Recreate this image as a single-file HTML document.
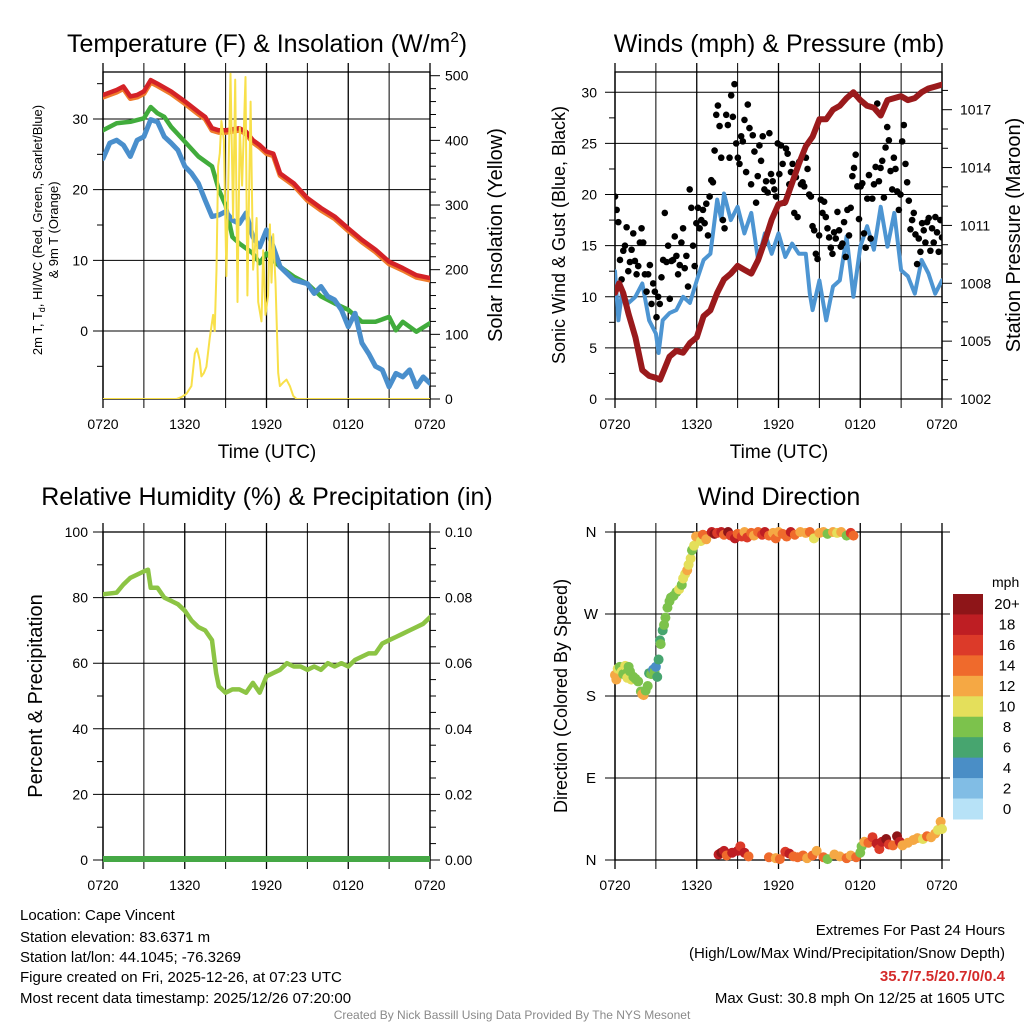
<!DOCTYPE html>
<html><head><meta charset="utf-8"><title>Cape Vincent Meteogram</title>
<style>
html,body{margin:0;padding:0;background:#fff;}
svg{display:block;font-family:"Liberation Sans",Arial,sans-serif;}
</style></head>
<body>
<svg id="root" width="1024" height="1024" viewBox="0 0 1024 1024" xmlns="http://www.w3.org/2000/svg">
<defs>
<clipPath id="c1"><rect x="103" y="72" width="327" height="327"/></clipPath>
<clipPath id="c2"><rect x="615" y="72" width="327" height="327"/></clipPath>
<clipPath id="c3"><rect x="103" y="532" width="327" height="330"/></clipPath>
</defs>
<g id="layer"></g>
<text x="267" y="52" font-size="25" text-anchor="middle">Temperature (F) &amp; Insolation (W/m<tspan dy="-10" font-size="15">2</tspan><tspan dy="10">)</tspan></text>
<text x="779" y="52" font-size="25" text-anchor="middle">Winds (mph) &amp; Pressure (mb)</text>
<text x="267" y="505" font-size="25" text-anchor="middle">Relative Humidity (%) &amp; Precipitation (in)</text>
<text x="779" y="505" font-size="25" text-anchor="middle">Wind Direction</text>
<text x="267" y="458" font-size="19" text-anchor="middle">Time (UTC)</text>
<text x="779" y="458" font-size="19" text-anchor="middle">Time (UTC)</text>
<g transform="translate(42,230) rotate(-90)">
<text x="0" y="0" font-size="13" text-anchor="middle">2m T, T<tspan dy="3" font-size="9">d</tspan><tspan dy="-3">, HI/WC (Red, Green, Scarlet/Blue)</tspan></text>
<text x="0" y="16" font-size="13" text-anchor="middle">&amp; 9m T (Orange)</text>
</g>
<text transform="translate(502,235) rotate(-90)" font-size="20" text-anchor="middle">Solar Insolation (Yellow)</text>
<text transform="translate(565,235) rotate(-90)" font-size="18" text-anchor="middle">Sonic Wind &amp; Gust (Blue, Black)</text>
<text transform="translate(1020,235) rotate(-90)" font-size="20" text-anchor="middle">Station Pressure (Maroon)</text>
<text transform="translate(42,696) rotate(-90)" font-size="20" text-anchor="middle">Percent &amp; Precipitation</text>
<text transform="translate(567,696) rotate(-90)" font-size="18" text-anchor="middle">Direction (Colored By Speed)</text>
<text x="992" y="587" font-size="14">mph</text>
<g font-size="15">
<text x="20" y="920">Location: Cape Vincent</text>
<text x="20" y="942">Station elevation: 83.6371 m</text>
<text x="20" y="962">Station lat/lon: 44.1045; -76.3269</text>
<text x="20" y="982">Figure created on Fri, 2025-12-26, at 07:23 UTC</text>
<text x="20" y="1003">Most recent data timestamp: 2025/12/26 07:20:00</text>
</g>
<g font-size="15" text-anchor="end">
<text x="1005" y="935">Extremes For Past 24 Hours</text>
<text x="1005" y="958">(High/Low/Max Wind/Precipitation/Snow Depth)</text>
<text x="1005" y="981" fill="#d42a2a" font-weight="bold">35.7/7.5/20.7/0/0.4</text>
<text x="1005" y="1003">Max Gust: 30.8 mph On 12/25 at 1605 UTC</text>
</g>
<text x="512" y="1019" font-size="12" fill="#8a8a8a" text-anchor="middle">Created By Nick Bassill Using Data Provided By The NYS Mesonet</text>
</svg>
<script>
const redH=[0,1,1.5,2,2.5,3,3.5,4,5,6,7,7.5,8,8.5,9,10,10.5,11,11.5,12,12.5,13,14,15,16,17,18,19,20,21,22,23,24];
const redV=[33.4,34.1,34.6,33.2,33.4,33.9,35.5,35,33.9,32.5,31,30.3,28.7,28.4,28.4,28.7,28.2,27,26.3,25.4,25.1,22.3,20.9,18.8,17.4,16.2,14.5,12.9,11.5,9.8,8.9,7.9,7.5];
const orangeV=[33.1,33.8,34.3,32.9,33.1,33.6,35.2,34.7,33.6,32.2,30.7,30,28.4,28.1,28.1,28.4,27.9,26.7,26,25.1,24.8,22,20.6,18.5,17.1,15.9,14.2,12.6,11.2,9.5,8.6,7.6,7.2];
const greenH=[0,1,2,3,3.5,4,4.5,5,6,7,8,8.5,9,9.5,10,11,11.5,12,12.5,13,14,15,16,17,18,19,20,21,21.5,22,23,24];
const greenV=[28.4,29.4,29.6,30.1,31.7,30.8,30.3,28.9,26.8,24.7,23.3,20,17.8,13.3,12.4,11,9.6,11,10,9.1,7.7,6.7,4.9,3.9,3,1.3,1.3,2,0.1,1.3,-0.1,1.1];
const blueH=[0,0.5,1,1.5,2,2.5,3,3.5,4,4.5,5,5.5,6,6.5,7,7.5,8,8.5,9,9.5,10,10.5,11,11.5,12,12.5,13,14,15,15.5,16,16.5,17,17.5,18,18.5,19,19.5,20,20.5,21,21.5,22,22.5,23,23.5,24];
const blueV=[24.4,26.6,27,26.3,24.7,27,27.5,29.9,29.6,27.5,26.6,25.6,23.3,22.3,20.9,18.5,16.2,16.4,16.9,15.7,15.2,16.7,13.3,11.9,14.3,11.9,9.1,7.2,6.7,5.3,6.3,4.9,4.4,3,0.6,2.5,-1.7,-3.2,-5,-5.5,-7.9,-6,-6.5,-5.5,-7.9,-6.5,-7.4];
const solarH=[0,5.39,5.76,6.12,6.49,6.74,6.9,7.1,7.22,7.4,7.59,7.84,8.08,8.2,8.33,8.45,8.57,8.69,8.87,9.06,9.21,9.36,9.55,9.7,9.87,10.04,10.21,10.46,10.6,10.83,11.02,11.14,11.27,11.39,11.63,11.76,11.93,12.12,12.25,12.37,12.49,12.66,12.86,12.98,13.2,13.47,13.72,13.96,14.2,24];
const solarV=[0,0,3,8,20,70,78,60,35,40,50,95,130,105,200,360,380,430,400,190,350,503,280,494,150,420,330,498,160,460,200,230,280,150,120,230,130,160,270,180,255,180,40,20,25,30,20,5,0,0];
const windH=[0,0.25,0.5,1,1.5,2,2.5,3,3.2,3.5,4,4.5,5,5.5,6,6.5,7,7.5,7.8,8,8.5,9,9.5,10,10.5,11,11.5,12,12.5,13,13.5,14,14.3,14.5,15,15.5,16,16.5,17,17.5,18,18.5,19,19.5,20,20.5,21,21.5,22,22.5,23,23.5,24];
const windV=[12.5,7.7,10.3,9.4,10,11.3,7.7,6.4,4.5,7.7,8.4,8.7,10,9.4,11.6,13.6,14.2,19.5,17.5,20.1,17.5,18.8,16.2,18.2,13.6,16.2,14.2,16.2,13.9,15.2,14.2,14.2,10.3,8.7,11.6,7.7,11,11.6,15.9,10,14.9,16.9,14.6,18.8,14.9,18.2,12.6,12,10.3,13.6,12.3,10.3,11.6];
const gustV=[19.8,18.5,17.3,13.6,11.7,14.5,15,16.8,12.5,13.4,14.6,16.2,13.5,12.2,13,15.3,16.7,15.3,12.2,10.5,12.2,13.1,9.3,11.3,10.5,8,10,9.3,11.9,13.6,18.2,13.4,15,9.8,13.5,13.6,15.9,14,12.2,13.1,15.3,16.7,12.8,14,11,20.5,18.7,15,13,17.2,18.7,16.7,17.5,18.5,17.2,19.1,16,19.8,21.4,21.2,24.3,27.8,28.7,26.7,23.6,17.5,16.7,27.8,26.8,23.6,29.7,27.6,30.8,25,23.6,23,25.7,25.2,27.3,22.2,28.8,26.5,21,25.8,24.2,19.2,21.8,24.8,23.3,25.7,20.5,21.3,20.2,26,22,21.3,20.5,19.8,25,22,24.8,23,19.2,24.5,24,21,22.2,23,18.2,21.7,17.8,23.2,21,21.2,20.8,23.6,22.5,20,19.8,16.9,16.5,14.2,13.7,16,19.5,18.2,19.3,17.8,16.7,15.8,14.8,14.2,16.3,15.7,18.3,16.5,14.9,15.2,17.3,13.9,18.5,16,18.7,21.8,22.6,23.9,20.8,17.6,20.8,21.1,16.2,14.8,19.6,21.9,15.7,19.6,21,22.7,28.9,21.3,22.6,23.3,19.7,24.6,26.6,25.3,22.3,20.5,23.6,22.5,20.3,18.5,20,25.2,26.8,23,21.2,19.4,16.6,17.5,18.2,16.1,13.2,15.7,14.4,17.2,16.5,15.3,17.3,17.7,14.5,16.7,15.3,17.8,16.3,14.4,17.5,15.8];
const presH=[0,0.3,0.6,1,1.5,2,2.5,3,3.3,3.6,4,4.5,5,5.5,6,6.5,7,7.5,8,8.5,9,9.5,10,10.5,11,11.5,12,12.5,13,13.5,14,14.5,15,15.5,16,16.5,17,17.5,18,18.5,19,19.5,20,20.5,21,21.5,22,22.5,23,23.5,24];
const presV=[1007.5,1008,1007.5,1006.4,1005.2,1003.5,1003.2,1003.1,1003,1003.5,1004.2,1004.5,1004.4,1004.9,1005.2,1006.3,1006.6,1007.5,1008.2,1008.5,1008.9,1008.7,1008.5,1009.2,1010.2,1011.3,1012.1,1012.2,1013.2,1014.2,1015.1,1015.6,1016.5,1016.5,1017,1017.2,1017.6,1017.9,1017.5,1017.2,1017.1,1016.7,1017.5,1017.6,1017.7,1017.5,1017.6,1017.9,1018.1,1018.2,1018.3];
const rhH=[0,1,1.5,2,2.5,3,3.3,3.5,4,4.5,5,5.5,6,6.5,7,7.5,8,8.3,8.5,9,9.5,10,10.5,11,11.5,12,12.5,13,13.5,14,14.5,15,15.5,16,16.5,17,17.5,18,18.5,19,19.5,20,20.5,21,21.5,22,22.5,23,23.5,24];
const rhV=[81,81.5,84,86,87,88,88.5,83,83,80,79,78,76,73,71,70,67,57,53,51,52,52,51,54,51,56,57,58,60,59,59,58,59,58,60,59,60,59,61,62,63,63,66,67,68,69,70,71,72,74];
const precipH=[0,24];
const precipV=[0,0];
const dirH=[0,0.1,0.2,0.35,0.5,0.6,0.75,0.85,0.9,1,1.1,1.2,1.35,1.5,1.7,1.9,2,2.1,2.25,2.4,2.5,2.65,2.8,2.9,3,3.1,3.2,3.3,3.35,3.5,3.6,3.7,3.85,4,4.1,4.3,4.5,4.7,4.9,5,5.15,5.3,5.4,5.55,5.65,5.8,5.95,6.15,6.3,6.45,6.7,7.1,7.3,7.5,7.8,8,8.3,8.5,8.8,9,9.3,9.5,9.7,10,10.2,10.5,10.8,11,11.3,11.6,11.8,12,12.3,12.6,12.9,13.2,13.6,14,14.3,14.6,15,15.3,15.6,16,16.3,16.6,17,17.3,17.5,7.6,7.8,8,8.2,8.6,9,9.2,9.5,9.8,11.3,11.8,12.1,12.5,12.8,13.1,13.4,13.8,14.1,14.5,14.8,15.3,15.6,16.1,16.5,17,17.3,17.7,18,18.1,18.3,18.6,18.9,19.2,19.4,19.6,19.9,20.1,20.4,20.7,20.9,21.1,21.5,21.9,22.2,22.6,22.9,23.2,23.5,23.7,23.9,24];
const dirDeg=[203,198,210,212,207,204,213,205,200,212,207,198,201,199,196,185,182,181,186,191,205,204,209,207,212,201,220,241,237,252,258,266,277,284,288,290,294,297,302,309,314,318,324,331,340,345,355,355,350,357,352,360,358,359,360,357,360,356,353,358,355,360,354,359,356,360,357,360,356,359,353,360,358,355,360,357,360,359,360,353,359,360,358,360,359,360,356,359,356,6,8,10,5,8,10,15,8,4,3,2,1,9,7,4,3,5,2,5,10,3,1,6,4,2,5,3,8,15,20,19,25,18,12,20,23,17,16,26,20,16,19,22,24,23,26,25,29,33,42,34];
const dirSpd=[12,13,10,8,10,8,10,8,10,8,8,10,8,8,8,8,12,12,8,8,6,8,4,8,4,6,6,6,8,6,8,8,8,8,8,9,8,10,8,10,10,12,10,10,8,10,12,12,10,14,12,18,20,16,18,14,20,16,18,14,16,12,16,14,12,14,16,18,14,12,14,12,14,14,18,14,12,12,14,10,12,12,8,12,10,12,8,16,14,18,20,18,14,18,18,16,18,14,14,12,14,16,18,14,14,14,12,14,12,14,8,12,12,14,12,14,8,8,12,14,16,18,16,18,20,16,14,20,18,12,12,12,12,10,14,12,12,10,12,10];
const speedColors=['#b7e2f7','#81bde5','#4a8ec6','#47a56f','#7cc24c','#e4df5b','#f5a844','#ef6a2c','#dc3a29','#be1e23','#8e1518'];
const speedLabels=['0','2','4','6','8','10','12','14','16','18','20+'];
const timeLabels=['0720','1320','1920','0120','0720'];

const NS='http://www.w3.org/2000/svg';
const layer=document.getElementById('layer');
function mk(tag,attrs,parent){const e=document.createElementNS(NS,tag);for(const k in attrs)e.setAttribute(k,attrs[k]);(parent||layer).appendChild(e);return e;}
function xAxis(x0){return h=>x0+h*(327/24);}
function linY(v0,y0,v1,y1){return v=>y0+(v-v0)*(y1-y0)/(v1-v0);}
function pathD(hs,vs,X,Y){return hs.map((h,i)=>(i?'L':'M')+X(h).toFixed(1)+','+Y(vs[i]).toFixed(1)).join('');}

function frame(x0,y0,y1,name){
  const g=mk('g',{});
  
  
  const X=xAxis(x0);
  for(let h=0;h<=24;h+=3){const x=X(h);const l=mk('line',{x1:x,x2:x,y1:y0-9,y2:y1+9,stroke:'#000','stroke-width':(h%6===0)?1.3:1},g);
    }
  timeLabels.forEach((t,i)=>{const tx=mk('text',{x:X(i*6),y:y1+30,'font-size':14,'text-anchor':'middle'},g);tx.textContent=t;
    });
  const b=mk('rect',{x:x0,y:y0,width:327,height:y1-y0,fill:'none',stroke:'#000','stroke-width':1.3},g);
  
  return X;
}
function hgrid(x0,y,g){mk('line',{x1:x0-10,x2:x0+327,y1:y,y2:y,stroke:'#000','stroke-width':1},g);}
function ticks(x,ys,len,g){ys.forEach(y=>mk('line',{x1:x,x2:x+len,y1:y,y2:y,stroke:'#000','stroke-width':1},g));}
function label(x,y,t,anchor,size){const e=mk('text',{x:x,y:y+5,'font-size':size||14,'text-anchor':anchor});e.textContent=t;
  return e;}

// ---- Panel 1: temperature ----
const X1=frame(103,72,399,'temp');
const Yt=linY(0,331,30,119), Ys=linY(0,399,500,75.7);
const ax1=mk('g',{});


[30,20,10,0].forEach(v=>{hgrid(103,Yt(v),ax1);label(88,Yt(v),String(v),'end');});
ticks(103,[-5,5,15,25,35].map(Yt),-6,ax1);
for(let v=0;v<=500;v+=20){ticks(430,[Ys(v)],v%100===0?10:6,ax1);}
[0,100,200,300,400,500].forEach(v=>label(445,Ys(v),String(v),'start'));
const p1=mk('g',{'clip-path':'url(#c1)',fill:'none','stroke-linejoin':'round','stroke-linecap':'round'});
const sOr=mk('path',{d:pathD(redH,orangeV,X1,Yt),stroke:'#f07b2c','stroke-width':5},p1);

const sRed=mk('path',{d:pathD(redH,redV,X1,Yt),stroke:'#d42227','stroke-width':4.5},p1);

const sGr=mk('path',{d:pathD(greenH,greenV,X1,Yt),stroke:'#41ac3c','stroke-width':4.5},p1);

const sBl=mk('path',{d:pathD(blueH,blueV,X1,Yt),stroke:'#4a8fcc','stroke-width':5},p1);

const sSol=mk('path',{d:pathD(solarH,solarV,X1,Ys),stroke:'#f8e04a','stroke-width':2},p1);


// ---- Panel 2: winds ----
const X2=frame(615,72,399,'wind');
const Yw=linY(0,399,30,92.3), Yp=linY(1002,399,1017,109.7);
const ax2=mk('g',{});


[0,5,10,15,20,25,30].forEach(v=>{hgrid(615,Yw(v),ax2);label(597,Yw(v),String(v),'end');});
ticks(615,[2.5,7.5,12.5,17.5,22.5,27.5].map(Yw),-6,ax2);
for(let p=1002;p<=1018;p+=1){ticks(942,[Yp(p)],(p-1002)%3===0?10:6,ax2);}
[1002,1005,1008,1011,1014,1017].forEach(v=>label(960,Yp(v),String(v),'start'));
const p2=mk('g',{'clip-path':'url(#c2)','stroke-linejoin':'round','stroke-linecap':'round'});
const sW=mk('path',{d:pathD(windH,windV,X2,Yw),stroke:'#4d95d2','stroke-width':4,fill:'none'},p2);

gustV.forEach((v,i)=>{const c=mk('circle',{cx:X2(i*24/(gustV.length-1)),cy:Yw(v),r:3.3,fill:'#000'},p2);
  });
const sP=mk('path',{d:pathD(presH,presV,X2,Yp),stroke:'#9a1a1c','stroke-width':6,fill:'none'},p2);


// ---- Panel 3: RH ----
const X3=frame(103,532,860,'rh');
const Yr=linY(0,860,100,532), Yq=linY(0,860,0.1,532);
const ax3=mk('g',{});


[0,20,40,60,80,100].forEach(v=>{hgrid(103,Yr(v),ax3);label(88,Yr(v),String(v),'end');});
ticks(103,[10,30,50,70,90].map(Yr),-6,ax3);
for(let v=0;v<=100;v+=5){ticks(430,[Yr(v)],v%20===0?10:6,ax3);}
['0.00','0.02','0.04','0.06','0.08','0.10'].forEach((t,i)=>label(445,Yr(i*20),t,'start'));
const p3=mk('g',{'clip-path':'url(#c3)',fill:'none','stroke-linejoin':'round','stroke-linecap':'round'});
const sR=mk('path',{d:pathD(rhH,rhV,X3,Yr),stroke:'#8cc444','stroke-width':4.5},p3);

const sQ=mk('path',{d:pathD(precipH,precipV,X3,Yq),stroke:'#45a845','stroke-width':8},p3);


// ---- Panel 4: wind direction ----
const X4=frame(615,532,860,'dir');
const Yd=linY(0,860,360,532);
const ax4=mk('g',{});


[['N',0],['E',90],['S',180],['W',270],['N',360]].forEach(a=>{mk('line',{x1:605,x2:950,y1:Yd(a[1]),y2:Yd(a[1]),stroke:'#000','stroke-width':1},ax4);label(591,Yd(a[1]),a[0],'middle',15);});
const p4=mk('g',{});


dirH.forEach((h,i)=>{const b=Math.min(10,Math.floor(dirSpd[i]/2));
  const c=mk('circle',{cx:X4(h),cy:Yd(dirDeg[i]),r:5,fill:speedColors[b]},p4);
  });
// colorbar
const cb=mk('g',{});


const cbTop=594, cbH=225/11;
for(let i=10;i>=0;i--){const y=cbTop+(10-i)*cbH;
  const r=mk('rect',{x:953,y:y,width:30,height:cbH+0.5,fill:speedColors[i]},cb);
  
  const t=mk('text',{x:1007,y:y+cbH/2+5,'font-size':15,'text-anchor':'middle'},cb);t.textContent=speedLabels[i];
  }
</script>
</body></html>
